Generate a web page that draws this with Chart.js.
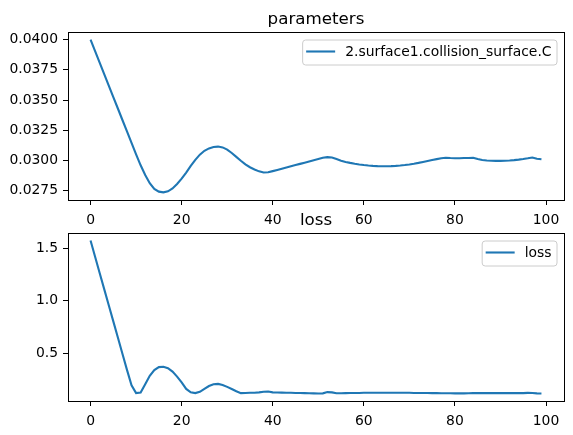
<!DOCTYPE html>
<html lang="en">
<head>
    <meta charset="UTF-8">
    <title>parameters / loss</title>
    <script src="https://cdn.jsdelivr.net/npm/chart.js"></script>
    <style>
        html, body { margin: 0; padding: 0; background: #fff; }
        .wrap { position: relative; width: 573px; height: 435px; overflow: hidden; }
        canvas { position: absolute; left: 0; }
        #paramChart { top: 0; }
        #lossChart { top: 200px; }
    </style>
</head>
<body>
<div class="wrap">
    <canvas id="paramChart" width="573" height="225"></canvas>
    <canvas id="lossChart" width="573" height="235"></canvas>
</div>

<script>
    // iteration index shared by both panels
    const steps = [
        0, 1, 2, 3, 4, 5, 6, 7, 8, 9, 10, 11, 12, 13, 14, 15, 16, 17, 18, 19,
        20, 21, 22, 23, 24, 25, 26, 27, 28, 29, 30, 31, 32, 33, 34, 35, 36, 37, 38, 39,
        40, 41, 42, 43, 44, 45, 46, 47, 48, 49, 50, 51, 52, 53, 54, 55, 56, 57, 58, 59,
        60, 61, 62, 63, 64, 65, 66, 67, 68, 69, 70, 71, 72, 73, 74, 75, 76, 77, 78, 79,
        80, 81, 82, 83, 84, 85, 86, 87, 88, 89, 90, 91, 92, 93, 94, 95, 96, 97, 98, 99
    ];

    const paramLabel = '2.surface1.collision_surface.C';
    const paramValues = [
        0.04000, 0.03905, 0.03810, 0.03715, 0.03620, 0.03525, 0.03430, 0.03335, 0.03240, 0.03145,
        0.03050, 0.02960, 0.02880, 0.02812, 0.02765, 0.02742, 0.02736, 0.02745, 0.02768, 0.02805,
        0.02850, 0.02900, 0.02955, 0.03005, 0.03048, 0.03080, 0.03100, 0.03112, 0.03115, 0.03108,
        0.03090, 0.03062, 0.03030, 0.02998, 0.02968, 0.02944, 0.02926, 0.02910, 0.02900, 0.02902,
        0.02912, 0.02922, 0.02932, 0.02942, 0.02952, 0.02962, 0.02972, 0.02982, 0.02992, 0.03002,
        0.03012, 0.03022, 0.03028, 0.03024, 0.03012, 0.02998, 0.02988, 0.02980, 0.02973, 0.02967,
        0.02962, 0.02958, 0.02955, 0.02953, 0.02952, 0.02952, 0.02953, 0.02955, 0.02958, 0.02962,
        0.02967, 0.02973, 0.02980, 0.02988, 0.02996, 0.03004, 0.03011, 0.03018, 0.03022, 0.03020,
        0.03019, 0.03019, 0.03020, 0.03021, 0.03023, 0.03012, 0.03004, 0.03000, 0.02998, 0.02997,
        0.02997, 0.02998, 0.03000, 0.03003, 0.03007, 0.03012, 0.03018, 0.03025, 0.03014, 0.03010
    ];

    const lossLabel = 'loss';
    const lossValues = [
        1.575, 1.420, 1.266, 1.112, 0.958, 0.804, 0.650, 0.496, 0.342, 0.195,
        0.120, 0.125, 0.205, 0.285, 0.340, 0.368, 0.372, 0.358, 0.325, 0.278,
        0.222, 0.160, 0.128, 0.120, 0.132, 0.160, 0.188, 0.205, 0.208, 0.198,
        0.180, 0.160, 0.138, 0.120, 0.121, 0.123, 0.124, 0.127, 0.133, 0.135,
        0.127, 0.126, 0.125, 0.124, 0.123, 0.122, 0.121, 0.120, 0.119, 0.118,
        0.117, 0.118, 0.130, 0.127, 0.119, 0.119, 0.120, 0.121, 0.122, 0.122,
        0.123, 0.123, 0.123, 0.123, 0.123, 0.123, 0.123, 0.123, 0.123, 0.123,
        0.123, 0.122, 0.122, 0.121, 0.121, 0.120, 0.120, 0.119, 0.119, 0.119,
        0.118, 0.118, 0.118, 0.119, 0.120, 0.120, 0.120, 0.120, 0.120, 0.120,
        0.120, 0.120, 0.120, 0.120, 0.120, 0.120, 0.122, 0.121, 0.118, 0.117
    ];

    const xTicks = [0, 20, 40, 60, 80, 100];
    const paramTicks = [0.0275, 0.0300, 0.0325, 0.0350, 0.0375, 0.0400];
    const lossTicks = [0.5, 1.0, 1.5];

    const FONT = '"DejaVu Sans", "Liberation Sans", sans-serif';
    const TICK_SIZE = 13.9;
    const BLUE = '#1f77b4';

    // axes box, title above it and a matplotlib style legend in the upper right
    const framePlugin = {
        id: 'frame',
        afterDraw(chart, args, opts) {
            const ctx = chart.ctx;
            const a = chart.chartArea;
            ctx.save();

            ctx.strokeStyle = '#000';
            ctx.lineWidth = 1;
            ctx.strokeRect(Math.round(a.left) + 0.5, Math.round(a.top) + 0.5,
                Math.round(a.right - a.left), Math.round(a.bottom - a.top));

            ctx.fillStyle = '#000';
            ctx.font = '16.7px ' + FONT;
            ctx.textAlign = 'center';
            ctx.textBaseline = 'alphabetic';
            ctx.fillText(opts.title, (a.left + a.right) / 2, a.top - 8.5);

            const label = chart.data.datasets[0].label;
            ctx.font = TICK_SIZE + 'px ' + FONT;
            const tw = ctx.measureText(label).width;
            const w = tw + 48, h = 25;
            const right = a.right - 7.5, top = a.top + 7.5;
            const left = right - w;
            ctx.beginPath();
            ctx.roundRect(left + 0.5, top + 0.5, w, h, 3);
            ctx.fillStyle = 'rgba(255,255,255,0.8)';
            ctx.fill();
            ctx.strokeStyle = '#cccccc';
            ctx.stroke();

            ctx.beginPath();
            ctx.moveTo(left + 4, top + 12);
            ctx.lineTo(left + 33, top + 12);
            ctx.strokeStyle = BLUE;
            ctx.lineWidth = 2.1;
            ctx.stroke();

            ctx.fillStyle = '#000';
            ctx.textAlign = 'left';
            ctx.textBaseline = 'middle';
            ctx.fillText(label, left + 43, top + 13);
            ctx.restore();
        }
    };

    function makeChart(id, label, values, yTicks, yMin, yMax, decimals, title, padTop, xHeight) {
        return new Chart(document.getElementById(id), {
            type: 'line',
            data: {
                labels: steps,
                datasets: [{
                    label: label,
                    data: values,
                    borderColor: BLUE,
                    borderWidth: 2.1,
                    pointRadius: 0,
                    tension: 0,
                    fill: false
                }]
            },
            options: {
                responsive: false,
                animation: false,
                layout: { padding: { top: padTop, right: 9, left: 0, bottom: 0 } },
                plugins: {
                    legend: { display: false },
                    tooltip: { enabled: false },
                    frame: { title: title }
                },
                scales: {
                    x: {
                        type: 'linear',
                        min: -4.95,
                        max: 103.95,
                        afterBuildTicks: s => { s.ticks = xTicks.map(v => ({ value: v })); },
                        afterFit: s => { s.height = xHeight; },
                        grid: { drawOnChartArea: false, tickLength: 5, tickColor: '#000', lineWidth: 1 },
                        border: { display: false },
                        ticks: {
                            color: '#000',
                            padding: 7,
                            maxRotation: 0,
                            font: { family: FONT, size: TICK_SIZE }
                        }
                    },
                    y: {
                        min: yMin,
                        max: yMax,
                        afterBuildTicks: s => { s.ticks = yTicks.map(v => ({ value: v })); },
                        afterFit: s => { s.width = 68; },
                        grid: { drawOnChartArea: false, tickLength: 5, tickColor: '#000', lineWidth: 1 },
                        border: { display: false },
                        ticks: {
                            color: '#000',
                            padding: 5,
                            font: { family: FONT, size: TICK_SIZE },
                            callback: v => Number(v).toFixed(decimals)
                        }
                    }
                }
            },
            plugins: [framePlugin]
        });
    }

    makeChart('paramChart', paramLabel, paramValues, paramTicks, 0.02673, 0.04063, 4, 'parameters', 32, 25);
    makeChart('lossChart', lossLabel, lossValues, lossTicks, 0.045, 1.647, 1, 'loss', 33, 34);
</script>
</body>
</html>
